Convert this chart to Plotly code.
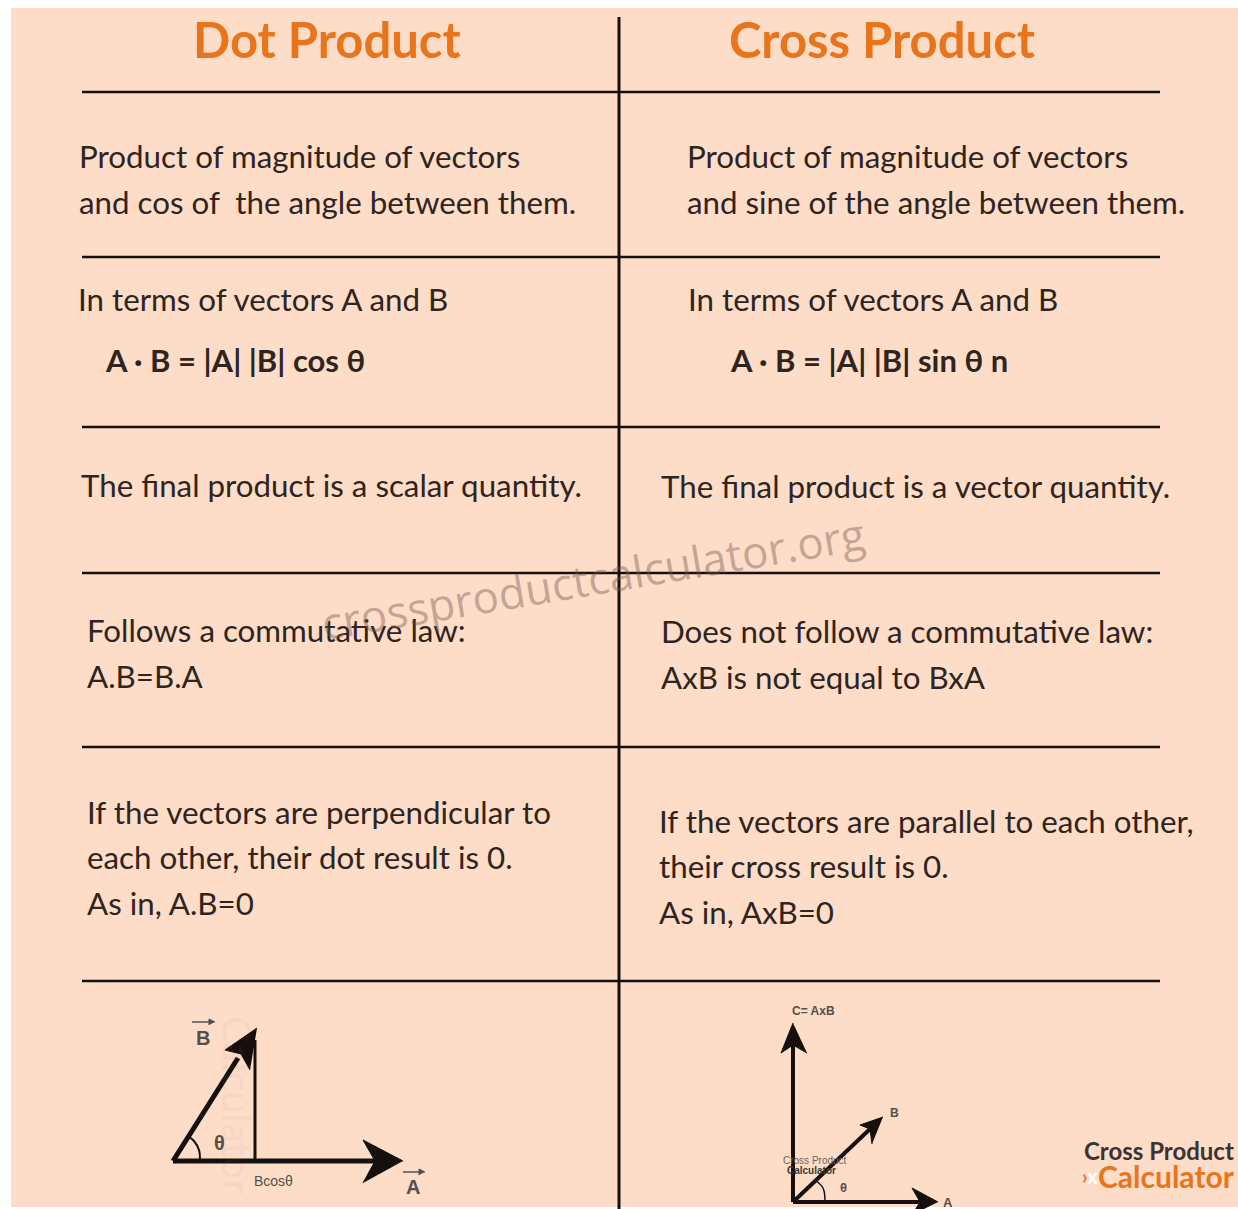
"""Dot product vs cross product comparison sheet."""

import plotly.graph_objects as go

WIDTH = 1238
HEIGHT = 1209

COLORS = {
    'paper': '#ffffff',
    'panel': '#fddcc8',
    'ink': '#2e2420',
    'line': '#15100e',
    'orange': '#e8741c',
    'mark': 'rgba(115,85,75,0.42)',
    'faint': 'rgba(150,120,105,0.07)',
    'label': '#54504c',
}
BODY_FONT = 'Lato'

# table rules
rule_y = [92, 257, 427, 573, 747, 981]
rule_x = [82, 1160]
divider_x = [619, 619]
divider_y = [17, 1209]

# headers
header_text = ['Dot Product', 'Cross Product']
header_x = [327, 882]
header_y = [39, 39]

# left column
left_text = [
    'Product of magnitude of vectors', 'and cos of  the angle between them.',
    'In terms of vectors A and B',
    'The final product is a scalar quantity.',
    'Follows a commutative law:', 'A.B=B.A',
    'If the vectors are perpendicular to', 'each other, their dot result is 0.', 'As in, A.B=0',
]
left_x = [77, 77, 76, 79, 85, 85, 85, 85, 85]
left_y = [156, 202, 299, 485, 630, 676, 812, 857, 903]

# right column
right_text = [
    'Product of magnitude of vectors', 'and sine of the angle between them.',
    'In terms of vectors A and B',
    'The final product is a vector quantity.',
    'Does not follow a commutative law:', 'AxB is not equal to BxA',
    'If the vectors are parallel to each other,', 'their cross result is 0.', 'As in, AxB=0',
]
right_x = [685, 685, 686, 659, 659, 659, 657, 657, 657]
right_y = [156, 202, 299, 486, 631, 677, 821, 866, 912]

# formulas
formula_text = ['A \u00b7 B = |A| |B| cos \u03b8', 'A \u00b7 B = |A| |B| sin \u03b8 n']
formula_x = [103, 728]
formula_y = [360, 360]

# dot product diagram
dot_a_x = [173, 380]
dot_a_y = [1161, 1161]
dot_a_head_x = [403, 363, 375, 363]
dot_a_head_y = [1161, 1140, 1161, 1183]
dot_b_x = [173, 238]
dot_b_y = [1161, 1058]
dot_b_head_x = [257, 225, 241, 250]
dot_b_head_y = [1028, 1050, 1054, 1070]
dot_perp_x = [255, 255]
dot_perp_y = [1040, 1161]
dot_arc_x = [200, 199, 194, 188]
dot_arc_y = [1161, 1150, 1141, 1136]

# cross product diagram
cross_c_x = [793, 793]
cross_c_y = [1202, 1045]
cross_c_head_x = [793, 781, 793, 807]
cross_c_head_y = [1023, 1053, 1045, 1053]
cross_b_x = [793, 870]
cross_b_y = [1202, 1129]
cross_b_head_x = [883, 860, 870, 872]
cross_b_head_y = [1117, 1125, 1129, 1144]
cross_a_x = [793, 920]
cross_a_y = [1202, 1202]
cross_a_head_x = [938, 912, 920, 912]
cross_a_head_y = [1202, 1188, 1202, 1215]
cross_arc_x = [825, 823, 815]
cross_arc_y = [1200, 1188, 1180]

# vector marks above the A and B labels
over_b_x = [192, 212]
over_b_y = [1022, 1022]
over_b_head_x = [215, 209, 209]
over_b_head_y = [1022, 1019, 1025]
over_a_x = [403, 422]
over_a_y = [1172, 1172]
over_a_head_x = [425, 419, 419]
over_a_head_y = [1172, 1169, 1175]

# small diagram labels
label_text = ['<b>B</b>', '<b>A</b>', '<b>\u03b8</b>', 'Bcos\u03b8', '<b>C= AxB</b>', '<b>B</b>', '<b>A</b>', '<b>\u03b8</b>']
label_x = [203, 413, 219, 273, 813, 894, 948, 843]
label_y = [1038, 1187, 1143, 1181, 1011, 1113, 1202, 1187]
label_size = [20, 20, 20, 14, 12, 12, 13, 13]

fig = go.Figure()


def add_line(xs, ys, width=3, color=COLORS['line'], smooth=False):
    fig.add_trace(go.Scatter(
        x=xs, y=ys, mode='lines', hoverinfo='skip',
        line=dict(color=color, width=width, shape='spline' if smooth else 'linear'),
    ))


def add_head(xs, ys, color=COLORS['line']):
    fig.add_trace(go.Scatter(
        x=xs, y=ys, mode='lines', fill='toself', fillcolor=color,
        line=dict(color=color, width=1), hoverinfo='skip',
    ))


def add_text(x, y, text, size, color=COLORS['ink'], family=BODY_FONT, anchor='left', angle=0):
    fig.add_annotation(
        x=x, y=y, text=text, showarrow=False, xanchor=anchor, yanchor='middle',
        textangle=angle, font=dict(family=family, size=size, color=color),
    )


for y in rule_y:
    add_line(rule_x, [y, y], width=2.5)
add_line(divider_x, divider_y, width=3)

add_line(dot_a_x, dot_a_y, width=5)
add_head(dot_a_head_x, dot_a_head_y)
add_line(dot_b_x, dot_b_y, width=5)
add_head(dot_b_head_x, dot_b_head_y)
add_line(dot_perp_x, dot_perp_y, width=3)
add_line(dot_arc_x, dot_arc_y, width=2, smooth=True)

add_line(cross_c_x, cross_c_y, width=4)
add_head(cross_c_head_x, cross_c_head_y)
add_line(cross_b_x, cross_b_y, width=4)
add_head(cross_b_head_x, cross_b_head_y)
add_line(cross_a_x, cross_a_y, width=4)
add_head(cross_a_head_x, cross_a_head_y)
add_line(cross_arc_x, cross_arc_y, width=1.5, smooth=True)

add_line(over_b_x, over_b_y, width=1.5, color=COLORS['label'])
add_head(over_b_head_x, over_b_head_y, color=COLORS['label'])
add_line(over_a_x, over_a_y, width=1.5, color=COLORS['label'])
add_head(over_a_head_x, over_a_head_y, color=COLORS['label'])

for text, x, y in zip(header_text, header_x, header_y):
    add_text(x, y, '<b>%s</b>' % text, 49, color=COLORS['orange'], anchor='center')
for text, x, y in zip(left_text + right_text, left_x + right_x, left_y + right_y):
    add_text(x, y, text, 31.3)
for text, x, y in zip(formula_text, formula_x, formula_y):
    add_text(x, y, '<b>%s</b>' % text, 31)
for text, x, y, size in zip(label_text, label_x, label_y, label_size):
    add_text(x, y, text, size, family='Liberation Sans', color=COLORS['label'], anchor='center')

# watermarks
add_text(593, 578, 'crossproductcalculator.org', 44, color=COLORS['mark'],
         family='Open Sans', anchor='center', angle=-9.5)
add_text(237, 1105, 'Calculator', 40, color=COLORS['faint'], anchor='center', angle=90)
add_text(815, 1160, 'Cross Product', 10, color='#6e625c', family='Liberation Sans', anchor='center')
add_text(811, 1170, '<b>Calculator</b>', 10, color='#3c3632', family='Liberation Sans', anchor='center')

# logo
add_text(1236, 1150, '<b>Cross Product</b>', 24, color='#3a3431', anchor='right')
add_text(1237, 1176, '<b>Calculator</b>', 30, color=COLORS['orange'], anchor='right')
add_text(1100, 1176, '<b><span style="color:#e8741c">\u203a</span>x</b>', 20, color='#ffffff', anchor='right')

fig.update_layout(
    width=WIDTH, height=HEIGHT,
    margin=dict(l=0, r=0, t=0, b=0),
    paper_bgcolor=COLORS['paper'], plot_bgcolor=COLORS['paper'],
    showlegend=False,
    shapes=[dict(type='rect', xref='x', yref='y', x0=11, x1=1238, y0=8, y1=1207,
                 fillcolor=COLORS['panel'], line_width=0, layer='below')],
)
fig.update_xaxes(range=[0, WIDTH], visible=False, fixedrange=True)
fig.update_yaxes(range=[HEIGHT, 0], visible=False, fixedrange=True)

fig.write_html("out.html", config={'displayModeBar': False},
               post_script="document.body.style.margin='0';")
